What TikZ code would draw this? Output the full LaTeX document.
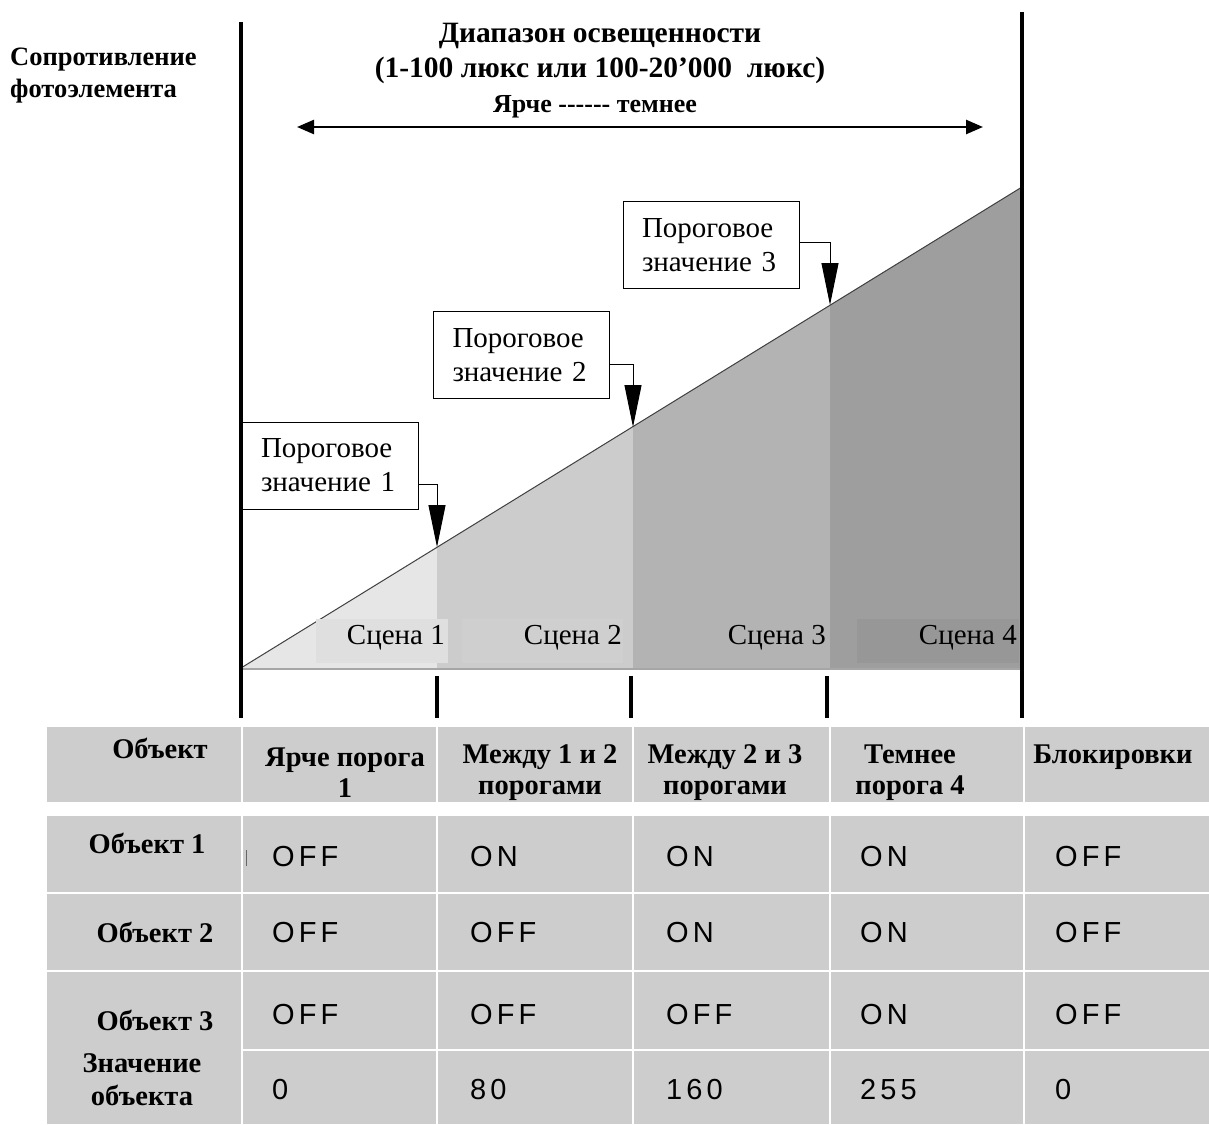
\documentclass[tikz,border=0pt]{standalone}
\usepackage{fontspec}
\setmainfont{Liberation Serif}
\newfontfamily\valfont{Liberation Sans}[LetterSpace=14]
\usetikzlibrary{arrows.meta}
\definecolor{secA}{HTML}{E6E6E6}
\definecolor{secB}{HTML}{CCCCCC}
\definecolor{secC}{HTML}{B3B3B3}
\definecolor{secD}{HTML}{9E9E9E}
\definecolor{boxA}{HTML}{DFDFDF}
\definecolor{boxB}{HTML}{CFCFCF}
\definecolor{boxD}{HTML}{979797}
\definecolor{tabgray}{HTML}{CDCDCD}
\newcommand{\hy}{-\kern0pt}
\begin{document}
\begin{tikzpicture}[x=1pt,y=-1pt,
  axisline/.style={line width=4pt,black},
  tickline/.style={line width=3.5pt,black},
  thrbox/.style={draw,line width=1pt,fill=white,minimum width=176pt,minimum height=87pt,inner xsep=19pt,align=left,text width=138pt,font=\fontsize{29}{34}\selectfont},
  conn/.style={line width=1pt,-{Triangle[length=42pt,width=17pt]}},
  scenelbl/.style={inner sep=0pt,anchor=east,font=\fontsize{29}{30}\selectfont},
  hdr/.style={inner sep=0pt,align=center,font=\bfseries\fontsize{28.5}{31}\selectfont},
  rowlbl/.style={inner sep=0pt,align=center,font=\bfseries\fontsize{28.5}{33}\selectfont},
  val/.style={inner sep=0pt,anchor=west,font=\valfont\fontsize{29}{30}\selectfont},
  sep/.style={white,line width=2pt}
]
\useasboundingbox (0,0) rectangle (1209,1124);
\fill[white] (0,0) rectangle (1209,1124);

% graph sections
\fill[secA] (241,668) -- (437,547.3) -- (437,668) -- cycle;
\fill[secB] (437,668) -- (437,547.3) -- (633,426.5) -- (633,668) -- cycle;
\fill[secC] (633,668) -- (633,426.5) -- (830,305) -- (830,668) -- cycle;
\fill[secD] (830,668) -- (830,305) -- (1022,187) -- (1022,668) -- cycle;
\draw[line width=1pt,black!75] (241,668) -- (1022,187);
\draw[line width=1.2pt,black!35] (241,669) -- (1022,669);

% scene label boxes
\fill[boxA] (316,619) rectangle (448,663);
\fill[boxB] (462,619) rectangle (623,663);
\fill[boxD] (857,619) rectangle (1019,663);
\node[scenelbl] (s1) at (445,638) {Сцена 1};
\node[scenelbl] (s2) at (622,638) {Сцена 2};
\node[scenelbl] (s3) at (826,638) {Сцена 3};
\node[scenelbl] (s4) at (1017,638) {Сцена 4};

% axes
\draw[axisline] (241,22) -- (241,718);
\draw[axisline] (1022,12) -- (1022,718);
\draw[tickline] (437,676) -- (437,718);
\draw[tickline] (631,676) -- (631,718);
\draw[tickline] (827,676) -- (827,718);

% titles
\node[inner sep=0pt,align=left,anchor=west,font=\bfseries\fontsize{26.5}{32}\selectfont] (ylab) at (10,76) {Сопротивление\\фотоэлемента};
\node[inner sep=0pt,align=center,font=\bfseries\fontsize{29.5}{35}\selectfont] (title) at (600,53) {Диапазон освещенности\\(1-100 люкс или 100-20’000\ \ люкс)};
\node[inner sep=0pt,font=\bfseries\fontsize{26}{28}\selectfont] (dir) at (595,107) {Ярче \hy\hy\hy\hy\hy- темнее};
\coordinate (al) at (297,127);
\coordinate (ar) at (983,127);
\draw[line width=2.5pt,{Triangle[length=17pt,width=14pt]}-{Triangle[length=17pt,width=14pt]}] (al) -- (ar);

% thresholds
\coordinate (t1) at (437,547);
\coordinate (t2) at (633,427);
\coordinate (t3) at (830,305);
\node[thrbox] (b1) at (330,465.5) {Пороговое\\значение 1};
\node[thrbox] (b2) at (521.5,355) {Пороговое\\значение 2};
\node[thrbox] (b3) at (711,245) {Пороговое\\значение 3};
\draw[conn] ([yshift=-18.5pt]b1.east) -| (t1);
\draw[conn] ([yshift=-9pt]b2.east) -| (t2);
\draw[conn] ([yshift=3pt]b3.east) -| (t3);

% table background
\fill[tabgray] (47,727) rectangle (1209,802);
\fill[tabgray] (47,816) rectangle (1209,1124);
\foreach \xx in {242,437,633,830,1024} {
  \draw[sep,line width=1.5pt] (\xx,727) -- (\xx,802);
  \draw[sep,line width=1.5pt] (\xx,816) -- (\xx,1124);
}
\draw[sep] (47,893) -- (1209,893);
\draw[sep] (47,971) -- (1209,971);
\draw[sep] (242,1050) -- (1209,1050);
\draw[line width=1pt,black!60] (246,850) -- (246,866);

% header
\node[hdr] (h0) at (160,748) {Объект};
\node[hdr] (h1) at (345,773) {Ярче порога\\1};
\node[hdr] (h2) at (540,773) {Между 1 и 2\\порогами};
\node[hdr] (h3) at (725,773) {Между 2 и 3\\порогами};
\node[hdr] (h4) at (910,773) {Темнее\\порога 4};
\node[hdr] (h5) at (1113,757) {Блокировки};

% row labels
\node[rowlbl] (r1) at (147,843) {Объект 1};
\node[rowlbl] (r2) at (155,932) {Объект 2};
\node[rowlbl] (r3) at (155,1020) {Объект 3};
\node[rowlbl] (r4) at (142,1080) {Значение\\объекта};

% values
\node[val] (v11) at (272,857) {OFF};
\node[val] (v12) at (470,857) {ON};
\node[val] (v13) at (666,857) {ON};
\node[val] (v14) at (860,857) {ON};
\node[val] (v15) at (1055,857) {OFF};
\node[val] (v21) at (272,933) {OFF};
\node[val] (v22) at (470,933) {OFF};
\node[val] (v23) at (666,933) {ON};
\node[val] (v24) at (860,933) {ON};
\node[val] (v25) at (1055,933) {OFF};
\node[val] (v31) at (272,1015) {OFF};
\node[val] (v32) at (470,1015) {OFF};
\node[val] (v33) at (666,1015) {OFF};
\node[val] (v34) at (860,1015) {ON};
\node[val] (v35) at (1055,1015) {OFF};
\node[val] (v41) at (272,1090) {0};
\node[val] (v42) at (470,1090) {80};
\node[val] (v43) at (666,1090) {160};
\node[val] (v44) at (860,1090) {255};
\node[val] (v45) at (1055,1090) {0};
\end{tikzpicture}
\end{document}
